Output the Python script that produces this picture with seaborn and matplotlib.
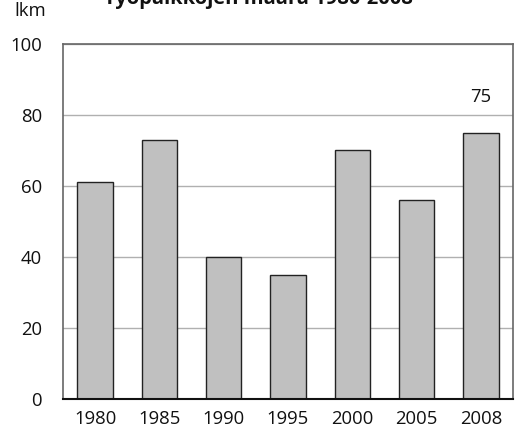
import matplotlib
matplotlib.use("Agg")
import matplotlib.pyplot as plt
import seaborn as sns
import pandas as pd

years = ["1980", "1985", "1990", "1995", "2000", "2005", "2008"]
values = [61, 73, 40, 35, 70, 56, 75]
yticks = [0, 20, 40, 60, 80, 100]
title = "Työpaikkojen määrä 1980-2008"
ylabel = "lkm"

sns.set_theme(style="white")
plt.rcParams['font.family'] = ['Open Sans', 'DejaVu Sans']

df = pd.DataFrame({"year": years, "value": values})

fig = plt.figure(figsize=(5.16, 4.41), dpi=100)
ax = fig.add_axes([63/516, 1 - 399/441, 450/516, 355/441])

ax.set_axisbelow(True)
ax.yaxis.grid(True, color="#b0b0b0", linewidth=1)
sns.barplot(data=df, x="year", y="value", color="#c0c0c0", saturation=1,
            width=0.55, edgecolor="#222222", linewidth=1.0, ax=ax)

ax.set_ylim(0, 100)
ax.set_yticks(yticks)
ax.set_xlim(-0.5, len(years) - 0.5)
ax.set_xlabel("")
ax.set_ylabel("")
ax.tick_params(axis="both", length=0, labelsize=13.3, colors="#111111")
ax.tick_params(axis="y", pad=15)
ax.tick_params(axis="x", pad=8)

for side in ["left", "right", "top"]:
    ax.spines[side].set_color("#666666")
    ax.spines[side].set_linewidth(1.2)
ax.spines["bottom"].set_color("#111111")
ax.spines["bottom"].set_linewidth(1.5)

ax.text(len(years) - 1, values[-1] + 7.5, str(values[-1]), ha="center", va="bottom",
        fontsize=13.3, color="#111111")

fig.text(258/516, 1 - 4/441, title, ha="center", va="baseline",
         fontsize=14.5, fontweight="bold", color="#111111")
fig.text(30/516, 1 - 11/441, ylabel, ha="center", va="center",
         fontsize=13.3, color="#111111")

fig.savefig("out.png", dpi=100)
